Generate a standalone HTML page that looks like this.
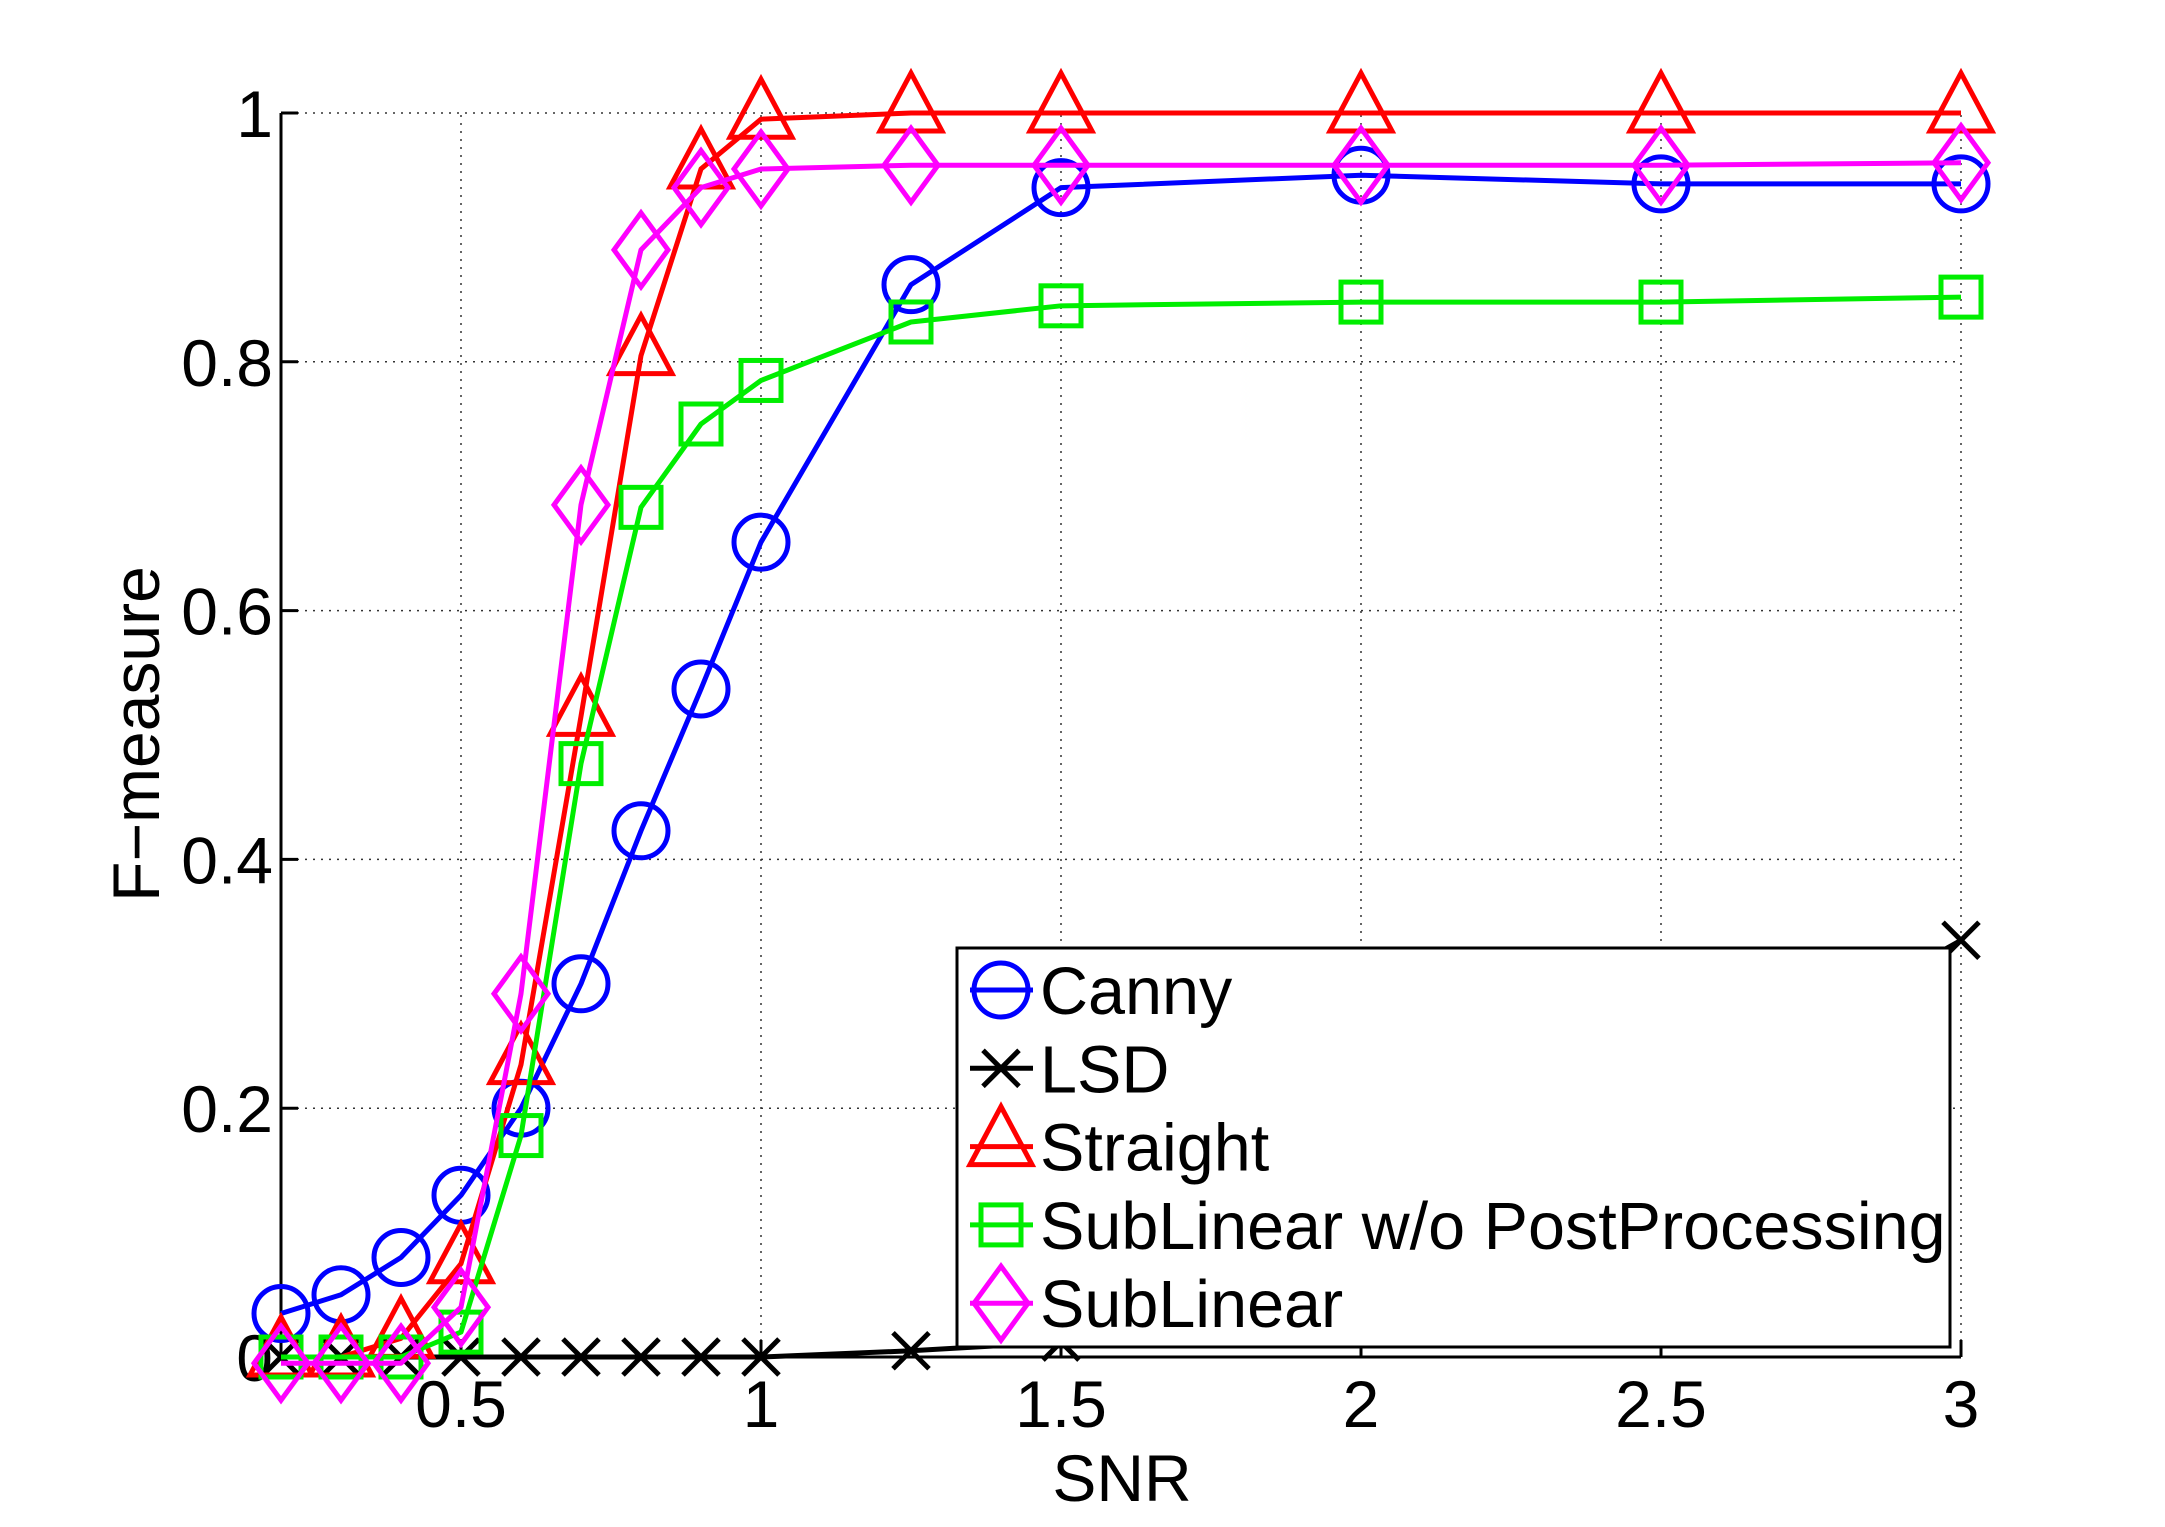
<!DOCTYPE html>
<html><head><meta charset="utf-8"><style>
html,body{margin:0;padding:0;background:#fff;}
svg{display:block;font-family:"Liberation Sans",Arial,sans-serif;}
</style></head><body>
<svg id="s" width="2165" height="1527" viewBox="0 0 2165 1527" xmlns="http://www.w3.org/2000/svg"></svg>
<script>
const S=document.getElementById('s');
const X0=281,X1=1961,Y0=1357,Y1=113;
const fx=v=>X0+(v-0.2)/2.8*(X1-X0), fy=v=>Y0-v*(Y0-Y1);
let h='';
[0.5,1,1.5,2,2.5,3].forEach(v=>{h+=`<line x1="${fx(v)}" y1="${Y0}" x2="${fx(v)}" y2="${Y1}" stroke="#333" stroke-width="1.5" stroke-dasharray="2,6"/>`;});
[0.2,0.4,0.6,0.8,1].forEach(v=>{h+=`<line x1="${X0}" y1="${fy(v)}" x2="${X1}" y2="${fy(v)}" stroke="#333" stroke-width="1.5" stroke-dasharray="2,6"/>`;});
h+=`<line x1="${X0}" y1="${Y1}" x2="${X0}" y2="${Y0}" stroke="#000" stroke-width="3"/>`;
h+=`<line x1="${X0}" y1="${Y0}" x2="${X1}" y2="${Y0}" stroke="#000" stroke-width="3"/>`;
[0.5,1,1.5,2,2.5,3].forEach(v=>{h+=`<line x1="${fx(v)}" y1="${Y0}" x2="${fx(v)}" y2="${Y0-17}" stroke="#000" stroke-width="3"/>`;
 h+=`<text x="${fx(v)}" y="1427" font-size="66" text-anchor="middle">${v}</text>`;});
[0,0.2,0.4,0.6,0.8,1].forEach(v=>{h+=`<line x1="${X0}" y1="${fy(v)}" x2="${X0+17}" y2="${fy(v)}" stroke="#000" stroke-width="3"/>`;
 h+=`<text x="273" y="${fy(v)+24}" font-size="66" text-anchor="end">${v}</text>`;});
h+=`<text x="1122" y="1501" font-size="66" text-anchor="middle">SNR</text>`;
h+=`<text transform="translate(159,734) rotate(-90)" font-size="66" text-anchor="middle">F−measure</text>`;
const xs=[0.2,0.3,0.4,0.5,0.6,0.7,0.8,0.9,1.0,1.25,1.5,2,2.5,3];
const series=[
 {c:'#0000ff',m:'o',d:[0.035,0.05,0.08,0.13,0.20,0.30,0.423,0.537,0.655,0.862,0.94,0.95,0.943,0.943]},
 {c:'#000000',m:'x',d:[0,0,0,0,0,0,0,0,0,0.005,0.012,0.1,0.2,0.335]},
 {c:'#ff0000',m:'t',d:[0,0,0.015,0.075,0.235,0.515,0.805,0.955,0.995,1,1,1,1,1]},
 {c:'#00ee00',m:'s',d:[0,0,0,0.02,0.178,0.477,0.683,0.75,0.785,0.832,0.845,0.848,0.848,0.852]},
 {c:'#ff00ff',m:'d',d:[-0.005,-0.005,-0.005,0.04,0.292,0.685,0.89,0.94,0.955,0.958,0.958,0.958,0.958,0.96]}
];
function mk(m,x,y,c){
 const st=`fill="none" stroke="${c}" stroke-width="5"`;
 if(m==='o')return `<circle cx="${x}" cy="${y}" r="27" ${st}/>`;
 if(m==='x')return `<path d="M${x-18},${y-18}L${x+18},${y+18}M${x-18},${y+18}L${x+18},${y-18}" ${st}/>`;
 if(m==='t')return `<path d="M${x},${y-40}L${x+31},${y+18}L${x-31},${y+18}Z" ${st}/>`;
 if(m==='s')return `<rect x="${x-20}" y="${y-20}" width="40" height="40" ${st}/>`;
 if(m==='d')return `<path d="M${x},${y-37}L${x+27},${y}L${x},${y+37}L${x-27},${y}Z" ${st}/>`;
}
series.forEach(s=>{
 const pts=xs.map((x,i)=>`${fx(x)},${fy(s.d[i])}`).join(' ');
 h+=`<polyline points="${pts}" fill="none" stroke="${s.c}" stroke-width="5" stroke-linejoin="round"/>`;
 xs.forEach((x,i)=>{h+=mk(s.m,fx(x),fy(s.d[i]),s.c);});
});
h+=`<rect x="957" y="948" width="993" height="399" fill="#fff" stroke="#000" stroke-width="3"/>`;
const names=['Canny','LSD','Straight','SubLinear w/o PostProcessing','SubLinear'];
names.forEach((n,i)=>{const y=990+i*78.3;const s=series[i];
 h+=`<line x1="970" y1="${y}" x2="1033" y2="${y}" stroke="${s.c}" stroke-width="5"/>`;
 h+=mk(s.m,1001,y,s.c);
 h+=`<text x="1040" y="${y+24}" font-size="66.5">${n}</text>`;});
S.innerHTML=h;
</script>
</body></html>
